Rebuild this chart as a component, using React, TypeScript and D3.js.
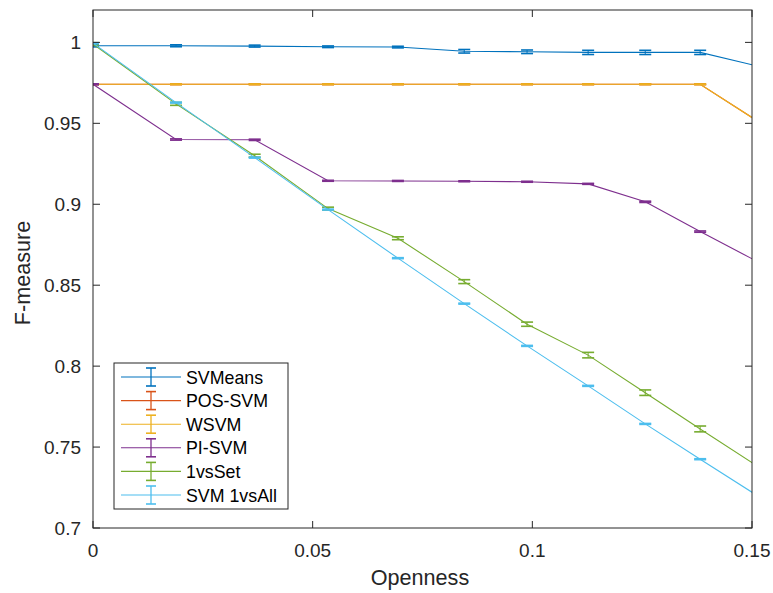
import React from "react";
import * as d3 from "d3";

const openness = [0, 0.0189, 0.0368, 0.0535, 0.0694, 0.0845, 0.0988, 0.1127, 0.1257, 0.1382, 0.1515];

const svmeans = [0.9979, 0.9979, 0.9977, 0.9973, 0.9971, 0.9945, 0.9942, 0.9938, 0.9938, 0.9938, 0.9852];
const svmeansErr = [0.0007, 0.0006, 0.0006, 0.0005, 0.0005, 0.0011, 0.0011, 0.0013, 0.0013, 0.0013, 0.0005];
const posSvm = [0.9741, 0.9741, 0.9741, 0.9741, 0.9741, 0.9741, 0.9741, 0.9741, 0.9741, 0.9741, 0.951];
const posSvmErr = [0.0002, 0.0002, 0.0002, 0.0002, 0.0002, 0.0002, 0.0002, 0.0002, 0.0002, 0.0002, 0.0002];
const wsvm = [0.9741, 0.9741, 0.9741, 0.9741, 0.9741, 0.9741, 0.9741, 0.9741, 0.9741, 0.9741, 0.951];
const wsvmErr = [0.0002, 0.0002, 0.0002, 0.0002, 0.0002, 0.0002, 0.0002, 0.0002, 0.0002, 0.0002, 0.0002];
const piSvm = [0.9741, 0.94, 0.9398, 0.9145, 0.9144, 0.9142, 0.9139, 0.9126, 0.9015, 0.8831, 0.8642];
const piSvmErr = [0.0003, 0.0004, 0.0004, 0.0003, 0.0003, 0.0003, 0.0003, 0.0003, 0.0004, 0.0004, 0.0003];
const oneVsSet = [0.999, 0.962, 0.93, 0.8973, 0.879, 0.8522, 0.8259, 0.8068, 0.7836, 0.7612, 0.7378];
const oneVsSetErr = [0.0008, 0.0009, 0.0009, 0.0009, 0.0009, 0.0012, 0.0013, 0.0017, 0.0017, 0.0018, 0.001];
const svm1vsAll = [0.9995, 0.9628, 0.9288, 0.8967, 0.8667, 0.8386, 0.8125, 0.7878, 0.7643, 0.7425, 0.7195];
const svm1vsAllErr = [0.0003, 0.0003, 0.0003, 0.0003, 0.0003, 0.0003, 0.0003, 0.0003, 0.0003, 0.0003, 0.0003];

const seriesNames = ["SVMeans", "POS-SVM", "WSVM", "PI-SVM", "1vsSet", "SVM 1vsAll"];
const seriesColors = ["#0072BD", "#D95319", "#EDB120", "#7E2F8E", "#77AC30", "#4DBEEE"];
const seriesValues = [svmeans, posSvm, wsvm, piSvm, oneVsSet, svm1vsAll];
const seriesErrors = [svmeansErr, posSvmErr, wsvmErr, piSvmErr, oneVsSetErr, svm1vsAllErr];

const xTicks = [0, 0.05, 0.1, 0.15];
const yTicks = [0.7, 0.75, 0.8, 0.85, 0.9, 0.95, 1];

const W = 773;
const H = 593;
const left = 93;
const right = 752;
const top = 10;
const bottom = 528;
const font = "'Liberation Sans', Arial, Helvetica, sans-serif";
const axisColor = "#262626";

export default function App() {
  const x = d3.scaleLinear().domain([0, 0.15]).range([left, right]);
  const y = d3.scaleLinear().domain([0.7, 1.02]).range([bottom, top]);
  const line = d3
    .line<number>()
    .x((_, i) => x(openness[i]))
    .y((d) => y(d));
  const cap = 6;
  const tickLen = 7;

  const legX = 114;
  const legY = 363;
  const legW = 174;
  const legH = 146;
  const rowH = 23.6;

  return (
    <svg width={W} height={H} style={{ position: "absolute", left: 0, top: 0, background: "#fff" }}>
      <rect x={0} y={0} width={W} height={H} fill="#fff" />
      <defs>
        <clipPath id="plotclip">
          <rect x={left} y={top} width={right - left} height={bottom - top} />
        </clipPath>
      </defs>
      <g clipPath="url(#plotclip)">
        {seriesValues.map((vals, si) => (
          <g key={si} stroke={seriesColors[si]} fill="none">
            <path d={line(vals) || ""} strokeWidth={1.1} />
            {vals.map((v, i) => {
              const e = seriesErrors[si][i];
              const cx = x(openness[i]);
              const y1 = y(v + e);
              const y2 = y(v - e);
              return (
                <g key={i} strokeWidth={1.6}>
                  <line x1={cx} x2={cx} y1={y1} y2={y2} strokeWidth={1} />
                  <line x1={cx - cap} x2={cx + cap} y1={y1} y2={y1} />
                  <line x1={cx - cap} x2={cx + cap} y1={y2} y2={y2} />
                </g>
              );
            })}
          </g>
        ))}
      </g>
      <g stroke={axisColor} strokeWidth={1} fill="none">
        <rect x={left} y={top} width={right - left} height={bottom - top} />
        {xTicks.map((t, i) => (
          <g key={"xt" + i}>
            <line x1={x(t)} x2={x(t)} y1={bottom} y2={bottom - tickLen} />
            <line x1={x(t)} x2={x(t)} y1={top} y2={top + tickLen} />
          </g>
        ))}
        {yTicks.map((t, i) => (
          <g key={"yt" + i}>
            <line x1={left} x2={left + tickLen} y1={y(t)} y2={y(t)} />
            <line x1={right} x2={right - tickLen} y1={y(t)} y2={y(t)} />
          </g>
        ))}
      </g>
      <g fontFamily={font} fontSize={19} fill="#262626">
        {xTicks.map((t, i) => (
          <text key={"xl" + i} x={x(t)} y={bottom + 28.5} textAnchor="middle">
            {String(t)}
          </text>
        ))}
        {yTicks.map((t, i) => (
          <text key={"yl" + i} x={left - 12} y={y(t) + 7} textAnchor="end">
            {String(t)}
          </text>
        ))}
        <text x={420} y={585} textAnchor="middle" fontSize={21.6}>
          Openness
        </text>
        <text
          transform={`translate(30, 273) rotate(-90)`}
          textAnchor="middle"
          fontSize={21.6}
        >
          F-measure
        </text>
      </g>
      <g>
        <rect x={legX} y={legY} width={legW} height={legH} fill="#fff" stroke={axisColor} strokeWidth={1} />
        {seriesNames.map((name, i) => {
          const cy = legY + 14 + i * rowH;
          const lx1 = legX + 7;
          const lx2 = legX + 67;
          const mx = (lx1 + lx2) / 2;
          return (
            <g key={name}>
              <g stroke={seriesColors[i]} fill="none">
                <line x1={lx1} x2={lx2} y1={cy} y2={cy} strokeWidth={1.1} />
                <line x1={mx} x2={mx} y1={cy - 9} y2={cy + 9} strokeWidth={1.3} />
                <line x1={mx - 5} x2={mx + 5} y1={cy - 9} y2={cy - 9} strokeWidth={1.6} />
                <line x1={mx - 5} x2={mx + 5} y1={cy + 9} y2={cy + 9} strokeWidth={1.6} />
              </g>
              <text x={legX + 72} y={cy + 6.5} fontFamily={font} fontSize={17.8} fill="#000">
                {name}
              </text>
            </g>
          );
        })}
      </g>
    </svg>
  );
}
